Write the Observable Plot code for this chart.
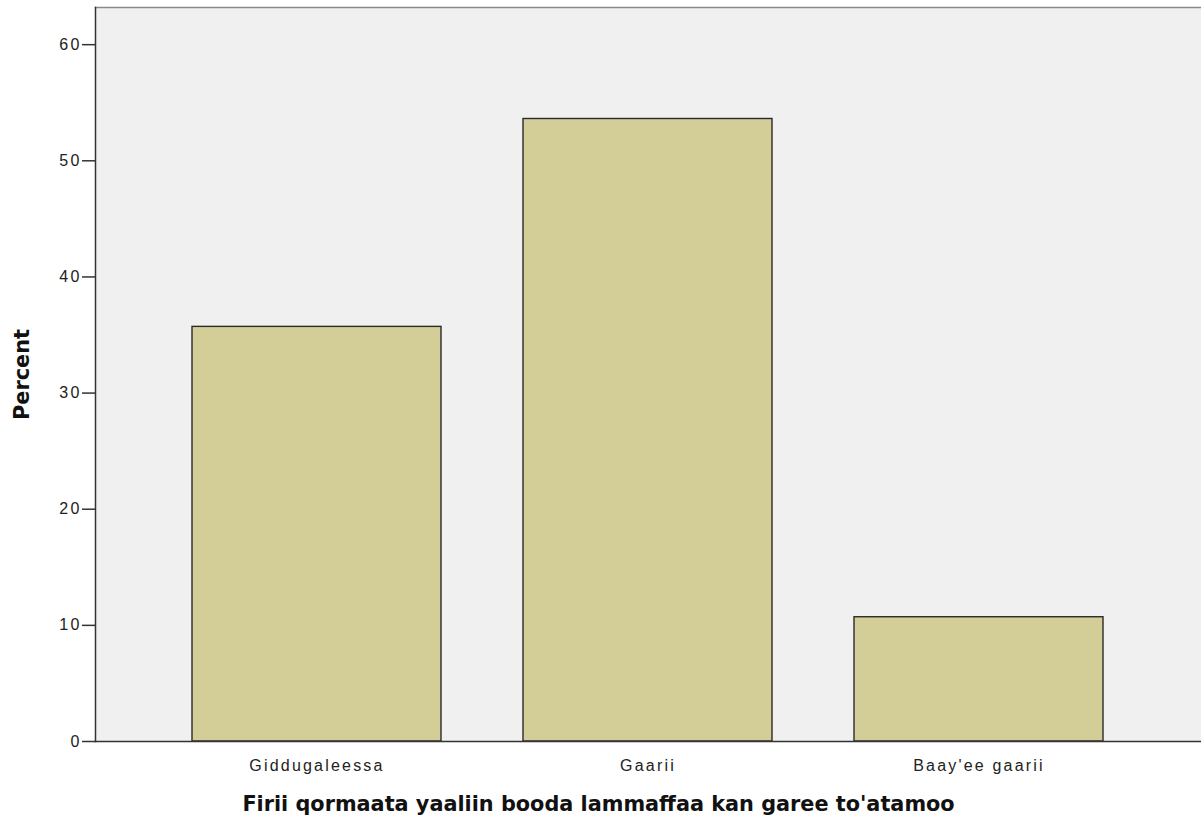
<!DOCTYPE html>
<html><head><meta charset="utf-8">
<script src="https://cdn.jsdelivr.net/npm/d3@7"></script>
<script src="https://cdn.jsdelivr.net/npm/@observablehq/plot@0.6"></script>
<style>body{margin:0;background:#fff;} #chart svg{display:block;}</style>
</head><body><div id="chart"></div>
<script>
const categories = ["Giddugaleessa", "Gaarii", "Baay'ee gaarii"];
const percents = [35.7, 53.6, 10.7];
const yTicks = [0, 10, 20, 30, 40, 50, 60];
const yMax = 63.2;
const xTitle = "Firii qormaata yaaliin booda lammaffaa kan garee to'atamoo";
const yTitle = "Percent";

const data = categories.map((c, i) => ({category: c, percent: percents[i]}));

const chart = Plot.plot({
  width: 1201,
  height: 816,
  marginTop: 7,
  marginBottom: 75,
  marginLeft: 95,
  marginRight: 0,
  style: {background: "#fff", fontFamily: "'Liberation Sans', Arial, sans-serif", fontSize: "16px", color: "#222"},
  x: {domain: categories, paddingInner: 0.247, paddingOuter: 0.29, label: null},
  y: {domain: [0, yMax], label: null},
  marks: [
    Plot.frame({fill: "#f0f0f0", stroke: null}),
    Plot.frame({anchor: "top", stroke: "#8a8a8a", strokeWidth: 1.5}),
    Plot.barY(data, {x: "category", y: "percent", fill: "#d3ce97", stroke: "#2a2a2a", strokeWidth: 1.4}),
    Plot.frame({anchor: "left", stroke: "#333", strokeWidth: 1.5}),
    Plot.frame({anchor: "bottom", stroke: "#333", strokeWidth: 1.5}),
    Plot.axisY({ticks: yTicks, tickSize: 13, tickPadding: 1, label: null, stroke: "#333", strokeWidth: 1.5, fill: "#222"}),
    Plot.axisX({tickSize: 0, tickPadding: 18, label: null, fill: "#222"}),
    Plot.text([xTitle], {text: d => d, frameAnchor: "bottom", dx: -50, dy: 69, lineAnchor: "bottom", textAnchor: "middle",
      fontFamily: "'DejaVu Sans', Verdana, sans-serif", fontWeight: "bold", fontSize: 20.8, fill: "#111"}),
    Plot.text([yTitle], {text: d => d, frameAnchor: "left", dx: -67, rotate: -90, lineAnchor: "bottom", textAnchor: "middle",
      fontFamily: "'DejaVu Sans', Verdana, sans-serif", fontWeight: "bold", fontSize: 20.8, fill: "#111"})
  ]
});
d3.select(chart).selectAll("g[aria-label='y-axis tick label'] text, g[aria-label='x-axis tick label'] text")
  .style("letter-spacing", "2.2px")
  .style("font-size", "16px")
  .style("font-family", "'Liberation Sans', Arial, sans-serif");
document.getElementById("chart").appendChild(chart);
</script>
</body></html>
